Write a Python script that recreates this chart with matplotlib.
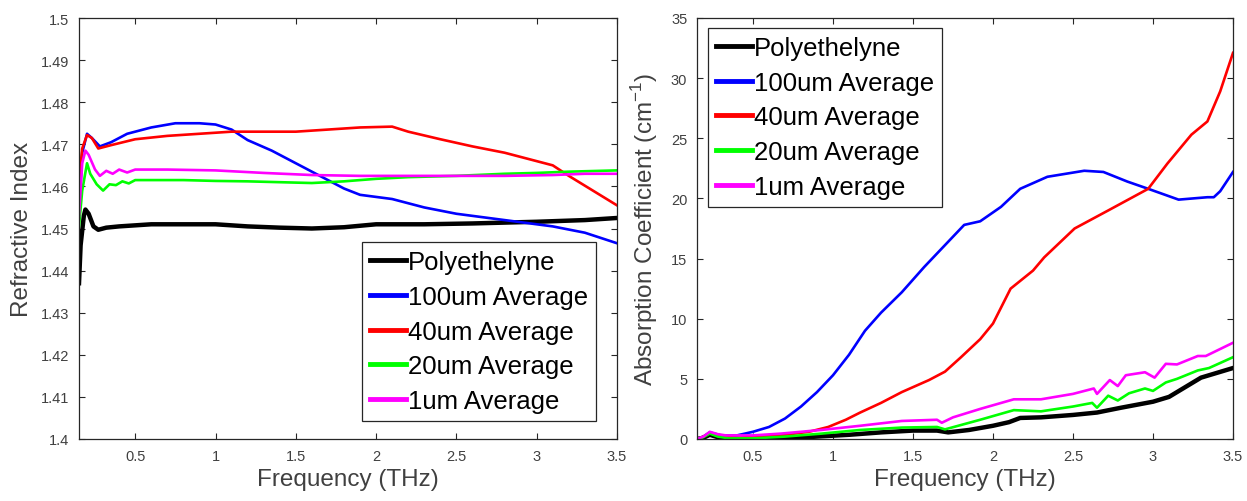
import numpy as np
import matplotlib
matplotlib.use("Agg")
import matplotlib.pyplot as plt

plt.rcParams['font.family'] = ['Liberation Sans', 'DejaVu Sans']

labels = ["Polyethelyne", "100um Average", "40um Average", "20um Average", "1um Average"]
colors = ["#000000", "#0000ff", "#ff0000", "#00ff00", "#ff00ff"]

# refractive index (left)
n_black_f = [0.15, 0.16, 0.18, 0.19, 0.21, 0.24, 0.27, 0.32, 0.4, 0.6, 0.8, 1.0, 1.2, 1.4, 1.6, 1.8, 2.0, 2.3, 2.6, 3.0, 3.3, 3.5]
n_black = [1.437, 1.446, 1.453, 1.4545, 1.4535, 1.4505, 1.4497, 1.4502, 1.4505, 1.451, 1.451, 1.451, 1.4505, 1.4502, 1.450, 1.4503, 1.451, 1.451, 1.4512, 1.4516, 1.452, 1.4525]

n_blue_f = [0.15, 0.17, 0.2, 0.23, 0.28, 0.35, 0.45, 0.6, 0.75, 0.9, 1.0, 1.1, 1.2, 1.35, 1.5, 1.65, 1.8, 1.9, 2.1, 2.3, 2.5, 2.7, 2.9, 3.1, 3.3, 3.5]
n_blue = [1.453, 1.468, 1.4725, 1.4715, 1.4695, 1.4705, 1.4725, 1.474, 1.475, 1.475, 1.4747, 1.4735, 1.471, 1.4685, 1.4655, 1.4625, 1.4595, 1.458, 1.457, 1.455, 1.4535, 1.4525, 1.4515, 1.4505, 1.449, 1.4465]

n_red_f = [0.15, 0.17, 0.2, 0.23, 0.27, 0.35, 0.5, 0.7, 0.9, 1.1, 1.3, 1.5, 1.7, 1.9, 2.1, 2.2, 2.4, 2.6, 2.8, 3.0, 3.1, 3.2, 3.35, 3.5]
n_red = [1.461, 1.469, 1.4722, 1.4715, 1.469, 1.4698, 1.4712, 1.472, 1.4725, 1.473, 1.473, 1.473, 1.4735, 1.474, 1.4742, 1.473, 1.4712, 1.4695, 1.468, 1.466, 1.465, 1.4625, 1.459, 1.4555]

n_green_f = [0.15, 0.17, 0.2, 0.22, 0.26, 0.3, 0.34, 0.38, 0.42, 0.46, 0.5, 0.6, 0.8, 1.0, 1.2, 1.4, 1.6, 1.8, 2.0, 2.2, 2.5, 2.8, 3.0, 3.2, 3.5]
n_green = [1.4505, 1.459, 1.4655, 1.463, 1.4605, 1.459, 1.4605, 1.4603, 1.4612, 1.4607, 1.4615, 1.4615, 1.4615, 1.4613, 1.4612, 1.461, 1.4608, 1.4612, 1.4618, 1.4622, 1.4625, 1.463, 1.4632, 1.4635, 1.4638]

n_mag_f = [0.15, 0.17, 0.19, 0.21, 0.25, 0.28, 0.32, 0.36, 0.4, 0.45, 0.5, 0.7, 1.0, 1.3, 1.6, 1.9, 2.2, 2.5, 2.8, 3.1, 3.3, 3.5]
n_mag = [1.453, 1.4655, 1.4685, 1.4675, 1.464, 1.4625, 1.4637, 1.463, 1.464, 1.4633, 1.464, 1.464, 1.4638, 1.4632, 1.4627, 1.4625, 1.4625, 1.4625, 1.4625, 1.4627, 1.463, 1.463]

# absorption coefficient (right)
a_black_f = [0.15, 0.19, 0.23, 0.28, 0.35, 0.5, 0.7, 0.9, 1.1, 1.3, 1.5, 1.65, 1.72, 1.85, 2.0, 2.1, 2.17, 2.3, 2.5, 2.65, 2.8, 3.0, 3.1, 3.2, 3.3, 3.4, 3.5]
a_black = [0.0, 0.1, 0.35, 0.15, 0.0, 0.0, 0.05, 0.2, 0.35, 0.55, 0.7, 0.7, 0.55, 0.75, 1.1, 1.4, 1.75, 1.8, 2.0, 2.2, 2.6, 3.1, 3.5, 4.3, 5.1, 5.5, 5.9]

a_blue_f = [0.15, 0.19, 0.23, 0.3, 0.4, 0.5, 0.6, 0.7, 0.8, 0.9, 1.0, 1.1, 1.2, 1.3, 1.43, 1.57, 1.72, 1.82, 1.92, 2.05, 2.17, 2.34, 2.57, 2.69, 2.84, 2.97, 3.16, 3.34, 3.38, 3.42, 3.5]
a_blue = [0.0, 0.2, 0.55, 0.3, 0.3, 0.6, 1.0, 1.7, 2.7, 3.9, 5.3, 7.0, 9.0, 10.5, 12.2, 14.3, 16.4, 17.8, 18.1, 19.3, 20.8, 21.8, 22.3, 22.2, 21.4, 20.8, 19.9, 20.1, 20.1, 20.6, 22.2]

a_red_f = [0.15, 0.19, 0.23, 0.3, 0.4, 0.55, 0.7, 0.85, 0.97, 1.08, 1.17, 1.3, 1.43, 1.6, 1.7, 1.8, 1.92, 2.0, 2.11, 2.25, 2.32, 2.51, 2.72, 2.97, 3.09, 3.24, 3.34, 3.42, 3.5]
a_red = [0.0, 0.2, 0.5, 0.2, 0.1, 0.2, 0.35, 0.6, 1.0, 1.6, 2.2, 3.0, 3.9, 4.9, 5.6, 6.8, 8.3, 9.6, 12.5, 14.0, 15.1, 17.5, 19.0, 20.8, 22.9, 25.3, 26.4, 28.9, 32.1]

a_green_f = [0.15, 0.19, 0.23, 0.28, 0.35, 0.5, 0.7, 0.93, 1.17, 1.43, 1.65, 1.7, 1.92, 2.13, 2.3, 2.5, 2.62, 2.65, 2.72, 2.78, 2.85, 2.95, 3.0, 3.08, 3.15, 3.28, 3.35, 3.5]
a_green = [0.0, 0.15, 0.45, 0.2, 0.05, 0.05, 0.2, 0.45, 0.75, 0.95, 1.0, 0.8, 1.6, 2.4, 2.3, 2.7, 3.0, 2.6, 3.6, 3.2, 3.8, 4.2, 4.0, 4.7, 5.0, 5.7, 5.9, 6.8]

a_mag_f = [0.15, 0.19, 0.23, 0.28, 0.33, 0.5, 0.675, 0.925, 1.17, 1.43, 1.65, 1.68, 1.75, 1.92, 2.13, 2.3, 2.5, 2.63, 2.65, 2.73, 2.78, 2.83, 2.95, 3.01, 3.08, 3.15, 3.28, 3.33, 3.5]
a_mag = [0.0, 0.2, 0.6, 0.4, 0.3, 0.3, 0.45, 0.75, 1.1, 1.5, 1.6, 1.35, 1.8, 2.5, 3.3, 3.3, 3.75, 4.2, 3.75, 4.9, 4.4, 5.3, 5.55, 5.1, 6.25, 6.2, 6.9, 6.9, 8.0]

xticks = [0.5, 1, 1.5, 2, 2.5, 3, 3.5]
xtick_labels = ["0.5", "1", "1.5", "2", "2.5", "3", "3.5"]
n_ticks = [1.4, 1.41, 1.42, 1.43, 1.44, 1.45, 1.46, 1.47, 1.48, 1.49, 1.5]
n_tick_labels = ["1.4", "1.41", "1.42", "1.43", "1.44", "1.45", "1.46", "1.47", "1.48", "1.49", "1.5"]
a_ticks = [0, 5, 10, 15, 20, 25, 30, 35]

fig = plt.figure(figsize=(12.47, 5.02), dpi=100)
ax1 = fig.add_axes([79/1247, 62/502, 538/1247, 421/502])
ax2 = fig.add_axes([697/1247, 62/502, 536/1247, 421/502])

widths = [3.2, 1.9, 1.9, 1.9, 1.9]

left = [(n_black_f, n_black), (n_blue_f, n_blue), (n_red_f, n_red), (n_green_f, n_green), (n_mag_f, n_mag)]
right = [(a_black_f, a_black), (a_blue_f, a_blue), (a_red_f, a_red), (a_green_f, a_green), (a_mag_f, a_mag)]

for (f, v), c, lab, w in zip(left, colors, labels, widths):
    ax1.plot(f, v, color=c, lw=w, label=lab)
for (f, v), c, lab, w in zip(right, colors, labels, widths):
    ax2.plot(f, v, color=c, lw=w, label=lab)

gray = "#404040"
for ax in (ax1, ax2):
    ax.set_xlim(0.15, 3.5)
    ax.set_xticks(xticks)
    ax.set_xticklabels(xtick_labels)
    ax.tick_params(direction="in", top=True, right=True, length=4, width=0.8,
                   labelsize=10.5, colors="#262626", labelcolor=gray, pad=7)
    for s in ax.spines.values():
        s.set_color("#262626")
        s.set_linewidth(0.9)
    ax.set_xlabel("Frequency (THz)", fontsize=17.5, color=gray, labelpad=4)

ax1.set_ylim(1.4, 1.5)
ax1.set_yticks(n_ticks)
ax1.set_yticklabels(n_tick_labels)
ax1.set_ylabel("Refractive Index", fontsize=17.5, color=gray, labelpad=6)

ax2.set_ylim(0, 35)
ax2.set_yticks(a_ticks)
ax2.set_ylabel("Absorption Coefficient (cm$^{\\mathregular{-1}}$)", fontsize=17.5, color=gray, labelpad=8)

leg_kw = dict(fontsize=18.5, frameon=True, fancybox=False, framealpha=1,
              handlelength=1.4, handletextpad=0.1, labelspacing=0.42,
              borderpad=0.3, borderaxespad=0)
l1 = ax1.legend(loc="lower right", bbox_to_anchor=(0.961, 0.043), **leg_kw)
l2 = ax2.legend(loc="upper left", bbox_to_anchor=(0.0205, 0.976), **leg_kw)
for lg in (l1, l2):
    lg.get_frame().set_edgecolor("#262626")
    lg.get_frame().set_linewidth(0.9)
    for h in lg.get_lines():
        h.set_linewidth(3.5)

fig.savefig("out.png", dpi=100)
